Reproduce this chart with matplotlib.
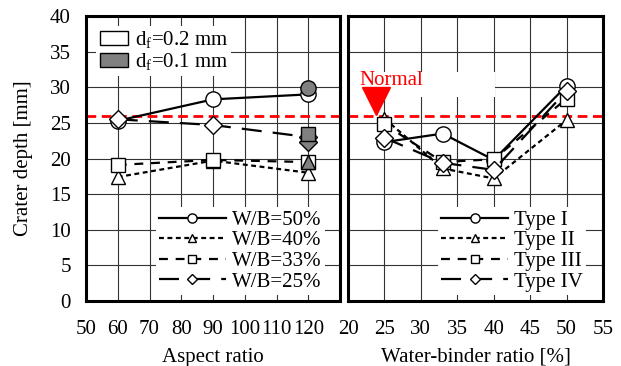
import numpy as np
import matplotlib
matplotlib.use("Agg")
import matplotlib.pyplot as plt
from matplotlib.patches import Patch, Rectangle

plt.rcParams['font.family'] = ['Liberation Serif', 'DejaVu Serif']
plt.rcParams['mathtext.fontset'] = 'custom'
plt.rcParams['mathtext.rm'] = 'Liberation Serif'
plt.rcParams['font.size'] = 15

# left panel: aspect ratio
aspect = [60, 90, 120]
wb_labels = ['W/B=50%', 'W/B=40%', 'W/B=33%', 'W/B=25%']
wb50 = [25.3, 28.3, 29.0]
wb40 = [17.4, 19.7, 18.0]
wb33 = [19.1, 19.8, 19.5]
wb25 = [25.5, 24.7, 23.0]
# d_f = 0.1 mm points (aspect 120)
thin_x = [120, 120, 120, 120]
thin_y = [29.9, 19.5, 23.4, 22.3]

# right panel: water-binder ratio
wbr = [25, 33, 40, 50]
type_labels = ['Type I', 'Type II', 'Type III', 'Type IV']
type1 = [22.3, 23.5, 19.8, 30.2]
type2 = [25.6, 18.6, 17.2, 25.4]
type3 = [24.8, 19.5, 19.9, 28.4]
type4 = [22.9, 19.4, 18.4, 29.5]

normal_depth = 26.0
normal_wbr = 23.8

markers = ['o', '^', 's', 'D']
dashes = [None, (2.2, 1.6), (4, 3.5), (9, 5)]
msizes = [11, 10, 10, 9]

fig = plt.figure(figsize=(6.21, 3.66), dpi=100)
ax1 = fig.add_axes([86/621, 1-301/366, 254/621, 285/366])
ax2 = fig.add_axes([348/621, 1-301/366, 255/621, 285/366])


def style(ax):
    ax.set_ylim(0, 40)
    ax.set_yticks(np.arange(0, 41, 5))
    ax.grid(True, color='#333333', linewidth=0.8)
    ax.set_axisbelow(True)
    ax.tick_params(axis='y', length=0, pad=11, labelsize=15)
    ax.tick_params(axis='x', length=0, pad=14, labelsize=15)
    for s in ax.spines.values():
        s.set_linewidth(2.2)


def draw(ax, x, series, labels):
    handles = []
    for i, y in enumerate(series):
        ln, = ax.plot(x, y, color='black', linewidth=1.6, marker=markers[i],
                      markersize=msizes[i], markerfacecolor='white',
                      markeredgecolor='black', markeredgewidth=1.0,
                      zorder=3 + i, label=labels[i])
        if dashes[i] is not None:
            ln.set_dashes(dashes[i])
        handles.append(ln)
    return handles


legend_kw = dict(loc='lower right', frameon=True, edgecolor='none',
                 facecolor='white', framealpha=1, fancybox=False,
                 handlelength=3.2, markerscale=0.6, labelspacing=0.05,
                 borderpad=0.15, handletextpad=0.3, fontsize=15)

style(ax1)
ax1.set_xlim(50, 130)
ax1.set_xticks(np.arange(50, 131, 10))
ax1.set_xticklabels([str(v) for v in range(50, 121, 10)] + [''])
h1 = draw(ax1, aspect, [wb50, wb40, wb33, wb25], wb_labels)
for i in range(4):
    ax1.plot(thin_x[i], thin_y[i], marker=markers[i], markersize=msizes[i],
             markerfacecolor='#808080', markeredgecolor='black',
             markeredgewidth=1.0, linestyle='none', zorder=10 - i)
ax1.axhline(normal_depth, color='red', linewidth=2, dashes=(3.5, 2), zorder=2)
ax1.set_ylabel('Crater depth [mm]', fontsize=15, labelpad=12)
ax1.set_xlabel('Aspect ratio', fontsize=15, labelpad=6)

leg_a = ax1.legend(handles=h1, bbox_to_anchor=(0.98, -0.015), **legend_kw)
leg_a.set_zorder(2.4)
ax1.add_artist(leg_a)
df_handles = [Patch(facecolor='white', edgecolor='black', linewidth=1.0),
              Patch(facecolor='#808080', edgecolor='black', linewidth=1.0)]
leg_b = ax1.legend(df_handles, ['d$_\\mathrm{f}$=0.2 mm', 'd$_\\mathrm{f}$=0.1 mm'],
                   loc='upper left', bbox_to_anchor=(0.0, 1.0), frameon=True,
                   edgecolor='none', facecolor='white', framealpha=1,
                   fancybox=False, handlelength=1.35, handleheight=0.65,
                   labelspacing=0.0, borderpad=0.15, handletextpad=0.35,
                   fontsize=15)
leg_b.set_zorder(2.4)

style(ax2)
ax2.set_xlim(20, 55)
ax2.set_xticks(np.arange(20, 56, 5))
ax2.set_yticklabels([])
h2 = draw(ax2, wbr, [type1, type2, type3, type4], type_labels)
ax2.axhline(normal_depth, color='red', linewidth=2, dashes=(3.5, 2), zorder=2)
ax2.add_patch(Rectangle((20.2, 28.6), 20.0, 3.5, facecolor='white',
                        edgecolor='none', zorder=1.5))
ax2.text(21.5, 31.0, 'Normal', color='red', fontsize=15, va='center',
         ha='left', zorder=6)
ax2.plot(normal_wbr, 28.1, marker='v', markersize=20, color='red',
         linestyle='none', zorder=12)
ax2.set_xlabel('Water-binder ratio [%]', fontsize=15, labelpad=6)
leg_c = ax2.legend(handles=h2, bbox_to_anchor=(0.975, -0.015), **legend_kw)
leg_c.set_zorder(2.4)

fig.savefig('out.png', dpi=100)
